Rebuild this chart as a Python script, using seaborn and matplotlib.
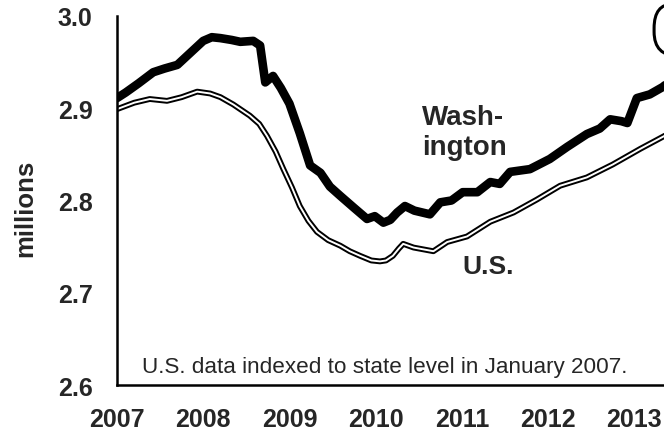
import numpy as np
import pandas as pd
import matplotlib
matplotlib.use("Agg")
import matplotlib.pyplot as plt
from matplotlib.patches import FancyBboxPatch
import seaborn as sns

# Washington and U.S. employment (millions), U.S. indexed to state level Jan 2007
wa_year = [2007.0, 2007.1, 2007.25, 2007.42, 2007.55, 2007.7, 2007.85, 2008.0, 2008.1,
           2008.2, 2008.33, 2008.43, 2008.58, 2008.66, 2008.72, 2008.81, 2008.9, 2009.0,
           2009.12, 2009.24, 2009.3, 2009.36, 2009.47, 2009.59, 2009.75, 2009.9, 2009.99,
           2010.09, 2010.17, 2010.25, 2010.34, 2010.45, 2010.63, 2010.75, 2010.88, 2011.01,
           2011.18, 2011.33, 2011.44, 2011.56, 2011.79, 2012.02, 2012.22, 2012.45, 2012.6,
           2012.72, 2012.85, 2012.92, 2013.03, 2013.18, 2013.33, 2013.45]
wa_emp = [2.911, 2.917, 2.927, 2.939, 2.943, 2.947, 2.960, 2.973, 2.977,
          2.976, 2.974, 2.972, 2.973, 2.968, 2.928, 2.935, 2.922, 2.905,
          2.873, 2.838, 2.834, 2.830, 2.815, 2.805, 2.792, 2.780, 2.783,
          2.776, 2.779, 2.787, 2.794, 2.789, 2.785, 2.798, 2.800, 2.809,
          2.809, 2.820, 2.818, 2.831, 2.834, 2.845, 2.858, 2.872, 2.878,
          2.888, 2.886, 2.884, 2.911, 2.915, 2.923, 2.932]

us_year = [2007.0, 2007.2, 2007.38, 2007.58, 2007.75, 2007.93, 2008.08, 2008.2, 2008.35,
           2008.54, 2008.65, 2008.74, 2008.84, 2008.93, 2009.03, 2009.12, 2009.22, 2009.32,
           2009.45, 2009.59, 2009.7, 2009.82, 2009.95, 2010.05, 2010.12, 2010.2, 2010.27,
           2010.32, 2010.44, 2010.67, 2010.83, 2011.06, 2011.33, 2011.6, 2011.87, 2012.14,
           2012.45, 2012.75, 2013.07, 2013.33, 2013.45]
us_emp = [2.899, 2.906, 2.910, 2.908, 2.912, 2.918, 2.916, 2.912, 2.904,
          2.892, 2.883, 2.870, 2.853, 2.834, 2.814, 2.794, 2.778, 2.766,
          2.757, 2.751, 2.745, 2.740, 2.735, 2.734, 2.735, 2.740, 2.748,
          2.753, 2.749, 2.745, 2.755, 2.761, 2.777, 2.787, 2.801, 2.816,
          2.825, 2.839, 2.856, 2.869, 2.875]

x_ticks = [2007, 2008, 2009, 2010, 2011, 2012, 2013]
y_ticks = [2.6, 2.7, 2.8, 2.9, 3.0]

sns.set_style("white")
plt.rcParams['font.family'] = ['Liberation Sans', 'DejaVu Sans']

fig = plt.figure(figsize=(6.64, 4.31), dpi=100)
ax = fig.add_axes([0.1762, 0.1044, 0.8238, 0.8562])

wa = pd.DataFrame({"year": wa_year, "emp": wa_emp})
us = pd.DataFrame({"year": us_year, "emp": us_emp})

# U.S. drawn as a hollow double line
sns.lineplot(data=us, x="year", y="emp", ax=ax, color="black", lw=4.2, sort=False)
sns.lineplot(data=us, x="year", y="emp", ax=ax, color="white", lw=1.4, sort=False)
sns.lineplot(data=wa, x="year", y="emp", ax=ax, color="black", lw=6.2, sort=False,
             solid_joinstyle="round", solid_capstyle="round")

ax.set_xlim(2007, 2013.345)
ax.set_ylim(2.6, 3.0)
ax.set_xticks(x_ticks)
ax.set_yticks(y_ticks)
ax.set_yticklabels([f"{v:.1f}" for v in y_ticks])
ax.set_xlabel("")
ax.set_ylabel("millions", fontsize=18.5, fontweight="bold")
ax.yaxis.set_label_coords(-0.146, 0.482)

for s in ["top", "right"]:
    ax.spines[s].set_visible(False)
for s in ["left", "bottom"]:
    ax.spines[s].set_linewidth(1.8)
    ax.spines[s].set_color("black")
ax.tick_params(axis="both", direction="inout", length=11, width=1.6, color="black",
               labelsize=18)
ax.tick_params(axis="y", pad=12)
ax.tick_params(axis="x", pad=10)
for lab in ax.get_xticklabels() + ax.get_yticklabels():
    lab.set_fontweight("bold")

ax.text(2010.54, 2.9045, "Wash-\nington", fontsize=20, fontweight="bold",
        ha="left", va="top", linespacing=1.2)
ax.text(2011.01, 2.742, "U.S.", fontsize=19, fontweight="bold", ha="left", va="top")
ax.text(2007.29, 2.614, "U.S. data indexed to state level in January 2007.", fontsize=16.2,
        ha="left", va="baseline")

# partly visible rounded label box at the right edge
box = FancyBboxPatch((2013.23, 2.9566), 0.5, 0.0564,
                     boxstyle="round,pad=0,rounding_size=0.28",
                     fill=False, ec="black", lw=2.2, clip_on=False,
                     mutation_aspect=0.0935)
ax.add_patch(box)

fig.savefig("out.png", dpi=100)
